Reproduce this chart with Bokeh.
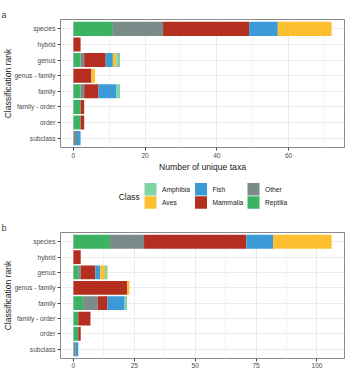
from bokeh.plotting import figure
from bokeh.models import ColumnDataSource, FactorRange, Range1d, FixedTicker, Label
from bokeh.layouts import column
from bokeh.embed import file_html
from bokeh.resources import INLINE
from bokeh.core.properties import value

# ---------------- data ----------------
ranks = ["species", "hybrid", "genus", "genus - family", "family",
         "family - order", "order", "subclass"]
# stacking order (left to right)
stack_classes = ["Reptilia", "Other", "Mammalia", "Fish", "Aves", "Amphibia"]
legend_classes = ["Amphibia", "Aves", "Fish", "Mammalia", "Other", "Reptilia"]
class_colors = {"Amphibia": "#80d4a6", "Aves": "#fbbf2f", "Fish": "#3b9bd8",
                "Mammalia": "#b52f20", "Other": "#7a8c8a", "Reptilia": "#3bb363"}

# panel a: number of unique taxa (per rank, in ranks order)
taxa_reptilia = [11, 0, 2, 0, 2, 2, 2, 0]
taxa_other    = [14, 0, 1, 0, 1, 0, 0, 1]
taxa_mammalia = [24, 2, 6, 5, 4, 1, 1, 0]
taxa_fish     = [8, 0, 2, 0, 5, 0, 0, 1]
taxa_aves     = [15, 0, 1, 1, 0, 0, 0, 0]
taxa_amphibia = [0, 0, 1, 0, 1, 0, 0, 0]

# panel b: number of enquiries
enq_reptilia = [15, 0, 2, 0, 4, 2, 2, 0]
enq_other    = [14, 0, 1, 0, 6, 0, 0, 1]
enq_mammalia = [42, 3, 6, 22, 4, 5, 1, 0]
enq_fish     = [11, 0, 2, 0, 7, 0, 0, 1]
enq_aves     = [24, 0, 2, 1, 0, 0, 0, 0]
enq_amphibia = [0, 0, 1, 0, 1, 0, 0, 0]

taxa_ticks = [0, 20, 40, 60]
taxa_minor = [10, 30, 50, 70]
enq_ticks = [0, 25, 50, 75, 100]
enq_minor = [12.5, 37.5, 62.5, 87.5]

FONT = "Liberation Sans"
W = 347


def panel(data, xmax, ticks, minor, letter, xtitle, height, top, bottom, title_on_axis):
    src = ColumnDataSource(data)
    factors = list(reversed(ranks))
    yr = FactorRange(factors=factors, range_padding=0.1, range_padding_units="absolute")
    pad = xmax * 0.05
    p = figure(width=W, height=height, y_range=yr, x_range=Range1d(-pad, xmax + pad),
               output_backend="svg", toolbar_location=None,
               min_border_left=60, min_border_right=3,
               min_border_top=top, min_border_bottom=bottom)
    p.hbar_stack(stack_classes, y="rank", height=0.9, source=src,
                 color=[class_colors[c] for c in stack_classes], line_color=None)
    p.background_fill_color = "white"
    p.outline_line_color = "#8a8a8a"
    p.outline_line_width = 1

    p.title.text = letter
    p.title.align = "left"
    p.title.offset = -59
    p.title.standoff = 0
    p.title.text_font = FONT
    p.title.text_font_size = "9px"
    p.title.text_font_style = "normal"
    p.title.vertical_align = "bottom"

    p.xaxis.ticker = FixedTicker(ticks=ticks, minor_ticks=minor)
    p.xgrid.grid_line_color = "#ebebeb"
    p.xgrid.minor_grid_line_color = "#f3f3f3"
    p.ygrid.grid_line_color = "#ebebeb"

    for ax in (p.xaxis[0], p.yaxis[0]):
        ax.axis_line_color = None
        ax.major_tick_line_color = "#444444"
        ax.major_tick_out = 3
        ax.major_tick_in = 0
        ax.minor_tick_line_color = None
        ax.major_label_text_font = FONT
        ax.major_label_text_font_size = "6.6px"
        ax.major_label_text_color = "#4d4d4d"
        ax.axis_label_text_font = FONT
        ax.axis_label_text_font_size = "8.6px"
        ax.axis_label_text_font_style = "normal"
        ax.axis_label_text_color = "#1a1a1a"
    p.yaxis.axis_label = "Classification rank"
    p.yaxis.major_label_standoff = 2
    p.yaxis.axis_label_standoff = -2
    p.xaxis.major_label_standoff = 1 if title_on_axis else 0
    p.xaxis.axis_label_standoff = 1
    if title_on_axis:
        p.xaxis.axis_label = xtitle
    else:
        p.add_layout(Label(x=142, y=-(bottom - 0.5), x_units="screen", y_units="screen",
                           text=xtitle, text_font=FONT, text_font_size="8.6px",
                           text_color="#1a1a1a", text_align="center",
                           text_baseline="bottom"))
    return p


def mk(rep, oth, mam, fish, aves, amph):
    return {"rank": ranks, "Reptilia": rep, "Other": oth, "Mammalia": mam,
            "Fish": fish, "Aves": aves, "Amphibia": amph}


pa = panel(mk(taxa_reptilia, taxa_other, taxa_mammalia, taxa_fish, taxa_aves, taxa_amphibia),
           72, taxa_ticks, taxa_minor, "a", "Number of unique taxa", 174, 19, 26, True)
pb = panel(mk(enq_reptilia, enq_other, enq_mammalia, enq_fish, enq_aves, enq_amphibia),
           106, enq_ticks, enq_minor, "b", "Number of enquiries", 164, 18, 20, False)

# ---------------- legend ----------------
LH = 40
pl = figure(width=W, height=LH, x_range=Range1d(60, 344), y_range=Range1d(LH, 0),
            output_backend="svg", toolbar_location=None,
            x_axis_location=None, y_axis_location=None,
            min_border_left=60, min_border_right=3, min_border_top=0, min_border_bottom=0)
pl.outline_line_color = None
pl.grid.visible = False
col_x = [144, 194.5, 247]
row_y = [14.7, 28]
kx, ky, lx, cols = [], [], [], []
for i, c in enumerate(legend_classes):
    cx = col_x[i // 2]
    cy = row_y[i % 2]
    kx.append(cx + 6)
    ky.append(cy)
    lx.append(cx + 17.5)
    cols.append(class_colors[c])
lsrc = ColumnDataSource(dict(kx=kx, ky=ky, lx=lx, col=cols, lab=legend_classes))
pl.rect(x="kx", y="ky", width=12, height=12.6, fill_color="col", line_color=None, source=lsrc)
pl.text(x="lx", y="ky", text="lab", source=lsrc, text_font=value(FONT),
        text_font_size=value("6.7px"), text_baseline="middle", text_color="#1a1a1a")
pl.text(x=[118.3], y=[22], text=["Class"], text_font=value(FONT),
        text_font_size=value("8.4px"), text_baseline="middle", text_color="#1a1a1a")

layout = column(pa, pl, pb, spacing=0)
open("out.html", "w").write(file_html(layout, INLINE))
